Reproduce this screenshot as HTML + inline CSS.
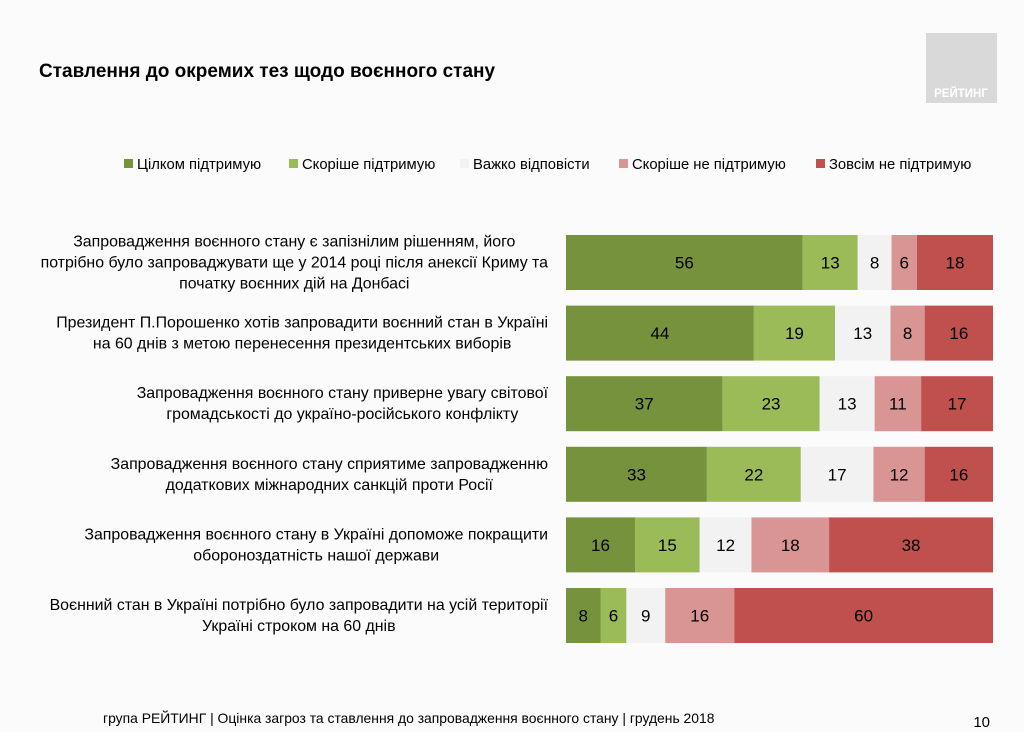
<!DOCTYPE html>
<html><head><meta charset="utf-8"><style>
body{margin:0;width:1024px;height:732px;background:#fbfbfb;font-family:"Liberation Sans",sans-serif;overflow:hidden}
svg{display:block}
</style></head><body>
<svg id="chart" width="1024" height="732">
<rect x="0" y="0" width="1024" height="732" fill="#fbfbfb"/>
<text x="39" y="77" font-size="19" font-weight="bold" fill="#000">Ставлення до окремих тез щодо воєнного стану</text>
<g>
<rect x="926" y="33" width="71" height="70" fill="#d9d9d9"/>
<text x="961" y="97" font-size="11.5" font-weight="bold" fill="#fff" text-anchor="middle">РЕЙТИНГ</text>
</g>
<g id="legend"></g>
<g id="labels"></g>
<g id="bars"></g>
<text x="103" y="723" font-size="13.9" fill="#000">група РЕЙТИНГ | Оцінка загроз та ставлення до запровадження воєнного стану | грудень 2018</text>
<text x="990" y="727" font-size="15" fill="#000" text-anchor="end">10</text>
</svg>
<script>
const seriesNames=["Цілком підтримую","Скоріше підтримую","Важко відповісти","Скоріше  не підтримую","Зовсім не підтримую"];
const categories=[
["Запровадження воєнного стану є запізнілим рішенням, його","потрібно було запроваджувати ще у 2014 році після анексії Криму та","початку воєнних дій на Донбасі"],
["Президент П.Порошенко хотів запровадити воєнний стан в Україні","на 60 днів з метою перенесення президентських виборів"],
["Запровадження воєнного стану приверне увагу світової","громадськості до україно-російського конфлікту"],
["Запровадження воєнного стану сприятиме запровадженню","додаткових міжнародних санкцій проти Росії"],
["Запровадження воєнного стану в Україні допоможе покращити","обороноздатність нашої держави"],
["Воєнний стан в Україні потрібно було запровадити на усій території","Україні строком на 60 днів"]
];
const fullySupport=[56,44,37,33,16,8];
const ratherSupport=[13,19,23,22,15,6];
const hardToSay=[8,13,13,17,12,9];
const ratherNot=[6,8,11,12,18,16];
const notAtAll=[18,16,17,16,38,60];
const colors=["#76923c","#9bbb59","#f2f2f2","#d99594","#c0504d"];
const NS="http://www.w3.org/2000/svg";
function mk(tag,attrs,parent){const e=document.createElementNS(NS,tag);for(const k in attrs)e.setAttribute(k,attrs[k]);parent.appendChild(e);return e;}
const x0=566,x1=993,rowTop=235,rowStep=70.6,barH=55;
function xScale(v,total){return v/total*(x1-x0);}
const lg=document.getElementById('legend');
const legX=[124,289,460,619,816];
seriesNames.forEach((n,i)=>{
 const g=mk('g',{},lg);
 
 
 mk('rect',{x:legX[i],y:159,width:9,height:9,fill:colors[i]},g);
 const t=mk('text',{x:legX[i]+13,y:169,'font-size':14.8,fill:'#000'},g);t.textContent=n;
});
const bars=document.getElementById('bars'),labs=document.getElementById('labels');
const series=[fullySupport,ratherSupport,hardToSay,ratherNot,notAtAll];
categories.forEach((lines,r)=>{
 const y=rowTop+r*rowStep;
 const total=series.reduce((s,a)=>s+a[r],0);
 let x=x0;
 series.forEach((arr,i)=>{
  const w=xScale(arr[r],total);
  const rc=mk('rect',{x:x,y:y,width:w,height:barH,fill:colors[i]},bars);
  
  
  const t=mk('text',{x:x+w/2,y:y+barH/2+6,'font-size':17,fill:'#000','text-anchor':'middle'},bars);
  
  
  t.textContent=arr[r];
  x+=w;
 });
 const lh=21,n=lines.length;
 const cy=y+barH/2;
 const ts=[];
 let maxW=0;
 lines.forEach((l,k)=>{
  const t=mk('text',{x:303,y:cy-(n-1)*lh/2+k*lh+5,'font-size':15.9,fill:'#000','text-anchor':'middle'},labs);
  
  
  t.textContent=l;
  maxW=Math.max(maxW,t.getComputedTextLength());
  ts.push(t);
 });
 const center=Math.max(548-maxW/2,maxW/2+4);
 ts.forEach(t=>t.setAttribute('x',center));
});
</script>
</body></html>
